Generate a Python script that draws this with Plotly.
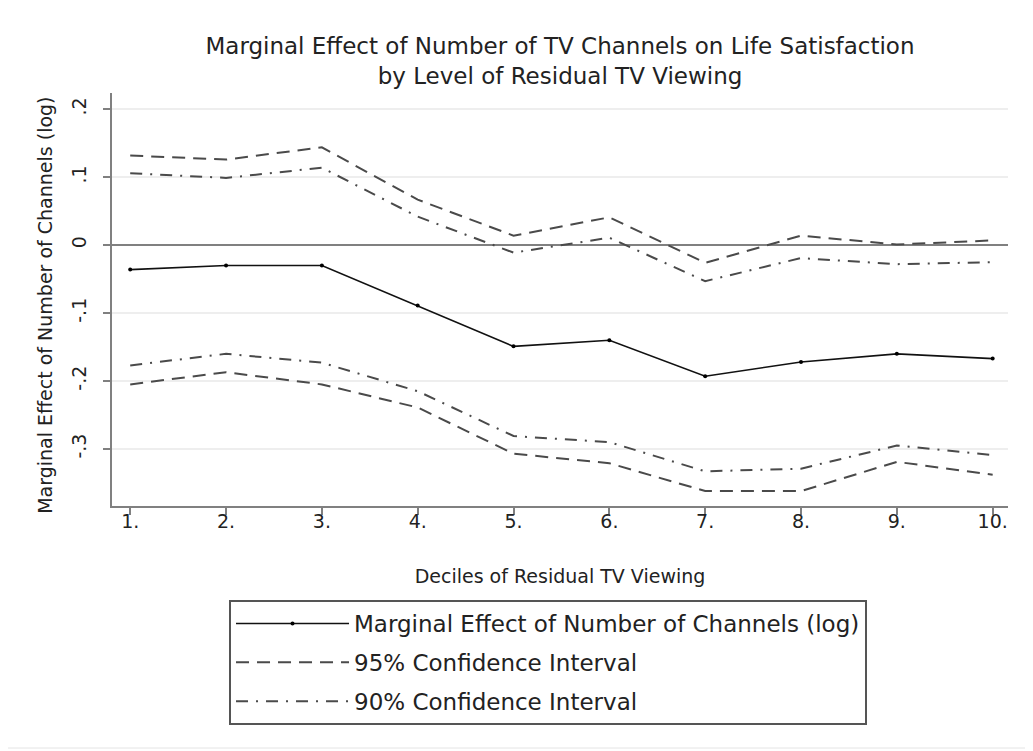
import plotly.graph_objects as go

# ---- data ----
deciles = [1, 2, 3, 4, 5, 6, 7, 8, 9, 10]
decile_labels = ["1.", "2.", "3.", "4.", "5.", "6.", "7.", "8.", "9.", "10."]
effect = [-0.036, -0.030, -0.030, -0.089, -0.149, -0.140, -0.193, -0.172, -0.160, -0.167]
ci95_upper = [0.132, 0.126, 0.144, 0.067, 0.014, 0.041, -0.026, 0.014, 0.001, 0.007]
ci95_lower = [-0.205, -0.187, -0.205, -0.239, -0.307, -0.321, -0.362, -0.362, -0.319, -0.338]
ci90_upper = [0.106, 0.099, 0.114, 0.042, -0.011, 0.011, -0.053, -0.019, -0.028, -0.025]
ci90_lower = [-0.177, -0.160, -0.173, -0.215, -0.281, -0.290, -0.333, -0.329, -0.295, -0.309]
y_tick_vals = [-0.3, -0.2, -0.1, 0, 0.1, 0.2]
y_tick_text = ["-.3", "-.2", "-.1", "0", ".1", ".2"]

FONT = "DejaVu Sans"
TXT = "#222222"
CI_COLOR = "#4a4a4a"
DASH95 = "13px,8px"
DASH90 = "12px,8px,2px,8px"

W, H = 1025, 743  # page body adds an 8px offset in the browser

fig = go.Figure()

fig.add_trace(go.Scatter(
    x=deciles, y=effect, mode="lines+markers",
    name="Marginal Effect of Number of Channels (log)",
    line=dict(color="#111111", width=1.6),
    marker=dict(color="#000000", size=4),
    legendgroup="a",
))
fig.add_trace(go.Scatter(
    x=deciles, y=ci95_upper, mode="lines", name="95% Confidence Interval",
    line=dict(color=CI_COLOR, width=2, dash=DASH95), legendgroup="b",
))
fig.add_trace(go.Scatter(
    x=deciles, y=ci95_lower, mode="lines", name="95% Confidence Interval",
    line=dict(color=CI_COLOR, width=2, dash=DASH95), legendgroup="b", showlegend=False,
))
fig.add_trace(go.Scatter(
    x=deciles, y=ci90_upper, mode="lines", name="90% Confidence Interval",
    line=dict(color=CI_COLOR, width=2, dash=DASH90), legendgroup="c",
))
fig.add_trace(go.Scatter(
    x=deciles, y=ci90_lower, mode="lines", name="90% Confidence Interval",
    line=dict(color=CI_COLOR, width=2, dash=DASH90), legendgroup="c", showlegend=False,
))

fig.update_layout(
    width=W, height=H,
    margin=dict(l=104, r=25, t=85, b=245),
    paper_bgcolor="white", plot_bgcolor="white",
    font=dict(family=FONT, color=TXT),
    title=dict(
        text="Marginal Effect of Number of TV Channels on Life Satisfaction<br>by Level of Residual TV Viewing",
        x=0.5, xref="paper", xanchor="center",
        y=1 - 46 / H, yref="container", yanchor="top",
        font=dict(family=FONT, size=23, color=TXT),
    ),
    showlegend=True,
    legend=dict(
        x=0.1306, y=-0.2276, xanchor="left", yanchor="top",
        xref="paper", yref="paper",
        bordercolor="#555555", borderwidth=2, bgcolor="white",
        font=dict(family=FONT, size=23, color=TXT),
        tracegroupgap=6, itemwidth=113,
    ),
    shapes=[dict(
        type="rect", xref="paper", yref="paper",
        x0=-0.1217, x1=1.0246, y0=-0.586, y1=1.218,
        line=dict(color="#e4e4e4", width=1), layer="below",
    )],
    annotations=[dict(
        text="Marginal Effect of Number of Channels (log)",
        xref="paper", yref="paper", x=-0.0748, y=0.487,
        xanchor="center", yanchor="middle", textangle=-90,
        showarrow=False, font=dict(family=FONT, size=19, color=TXT),
    )],
)

fig.update_xaxes(
    range=[0.81, 10.16],
    tickvals=deciles, ticktext=decile_labels,
    showline=True, linecolor="#808080", linewidth=2,
    ticks="outside", ticklen=7, tickcolor="#808080", tickwidth=2,
    ticklabelstandoff=-10,
    showgrid=False, zeroline=False,
    tickfont=dict(family=FONT, size=19, color=TXT),
    title=dict(text="Deciles of Residual TV Viewing", standoff=39,
               font=dict(family=FONT, size=19, color=TXT)),
)
fig.update_yaxes(
    range=[-0.384, 0.224],
    tickvals=y_tick_vals, ticktext=y_tick_text, tickangle=-90,
    showline=True, linecolor="#808080", linewidth=2,
    ticks="outside", ticklen=7, tickcolor="#808080", tickwidth=2,
    ticklabelstandoff=9,
    showgrid=True, gridcolor="#eeeeee", gridwidth=1.5,
    zeroline=True, zerolinecolor="#808080", zerolinewidth=2,
    tickfont=dict(family=FONT, size=19, color=TXT),
)

fig.write_html("out.html")
